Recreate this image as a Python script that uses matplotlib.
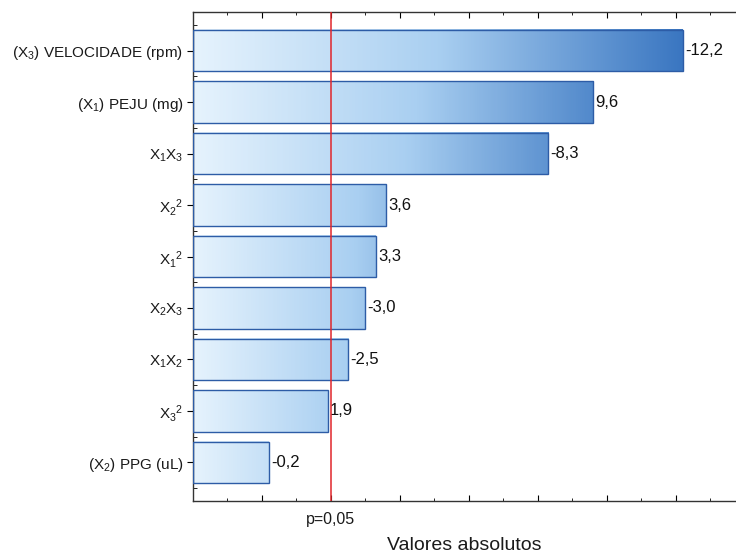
import numpy as np
import matplotlib.pyplot as plt
import matplotlib
from matplotlib.colors import LinearSegmentedColormap
from matplotlib.ticker import FixedLocator

matplotlib.rcParams['font.family'] = ['Liberation Sans', 'DejaVu Sans']
matplotlib.rcParams['mathtext.default'] = 'regular'
matplotlib.rcParams['font.size'] = 11

# efeitos padronizados (t), ordem de Pareto
efeitos = ['(X$_3$) VELOCIDADE (rpm)', '(X$_1$) PEJU (mg)', 'X$_1$X$_3$', 'X$_2$$^2$',
           'X$_1$$^2$', 'X$_2$X$_3$', 'X$_1$X$_2$', 'X$_3$$^2$', '(X$_2$) PPG (uL)']
valores = [-12.2, 9.6, -8.3, 3.6, 3.3, -3.0, -2.5, 1.9, -0.2]
p_critico = 2.0
xmin, xmax = -2.0, 13.74

fig = plt.figure(figsize=(7.36, 5.56), dpi=100)
ax = fig.add_axes([0.2622, 0.0989, 1 - 0.2622, 0.9784 - 0.0989])

y = np.arange(len(efeitos))
absv = np.abs(valores)
bars = ax.barh(y, absv - xmin, left=xmin, height=0.8, facecolor='none',
               edgecolor='#2d5ca6', linewidth=1.0, zorder=3)

# gradiente por barra: claro a esquerda, mais escuro quanto maior a barra
cmap = LinearSegmentedColormap.from_list('azul', ['#e6f3fd', '#a9cff1', '#3a76c1'])
for b, a in zip(bars, absv):
    s = 0.2 + 0.8 * (a / absv.max()) ** 0.6
    img = cmap(np.linspace(0, s, 256))[None, :, :3]
    x0, y0 = b.get_x(), b.get_y()
    ax.imshow(img, extent=[x0, x0 + b.get_width(), y0 + b.get_height(), y0],
              aspect='auto', zorder=2, interpolation='bilinear')

for yi, v, a in zip(y, valores, absv):
    ax.text(a + 0.06, yi, f'{v:.1f}'.replace('.', ','), va='center', ha='left',
            fontsize=12, color='#111111', zorder=4)

ax.axvline(p_critico, color='#e0262b', linewidth=1.1, zorder=4)

ax.set_xlim(xmin, xmax)
ax.set_ylim(len(efeitos) - 0.25, -0.75)
ax.set_yticks(y)
ax.set_yticklabels(efeitos, color='#1a1a1a', fontsize=11)
ax.yaxis.set_minor_locator(FixedLocator(np.arange(-0.75, len(efeitos), 0.25)))
ax.tick_params(axis='y', which='major', direction='out', length=4, width=0.8, pad=3)
ax.tick_params(axis='y', which='minor', direction='in', length=3, width=0.6)

ax.set_xticks(np.arange(0, 14, 2))
ax.set_xticklabels(['', 'p=0,05', '', '', '', '', ''], fontsize=11.5)
ax.xaxis.set_minor_locator(FixedLocator(np.arange(-1, 14, 2)))
ax.tick_params(axis='x', which='major', direction='in', length=4, width=0.8,
               top=True, pad=8, labelcolor='#1a1a1a')
ax.tick_params(axis='x', which='minor', direction='in', length=2, width=0.6, top=True)

ax.spines['right'].set_visible(False)
for s in ['left', 'top', 'bottom']:
    ax.spines[s].set_linewidth(1.0)
    ax.spines[s].set_color('#333333')

ax.set_xlabel('Valores absolutos', fontsize=14, color='#1a1a1a', labelpad=7)

plt.savefig('out.png', dpi=100)
